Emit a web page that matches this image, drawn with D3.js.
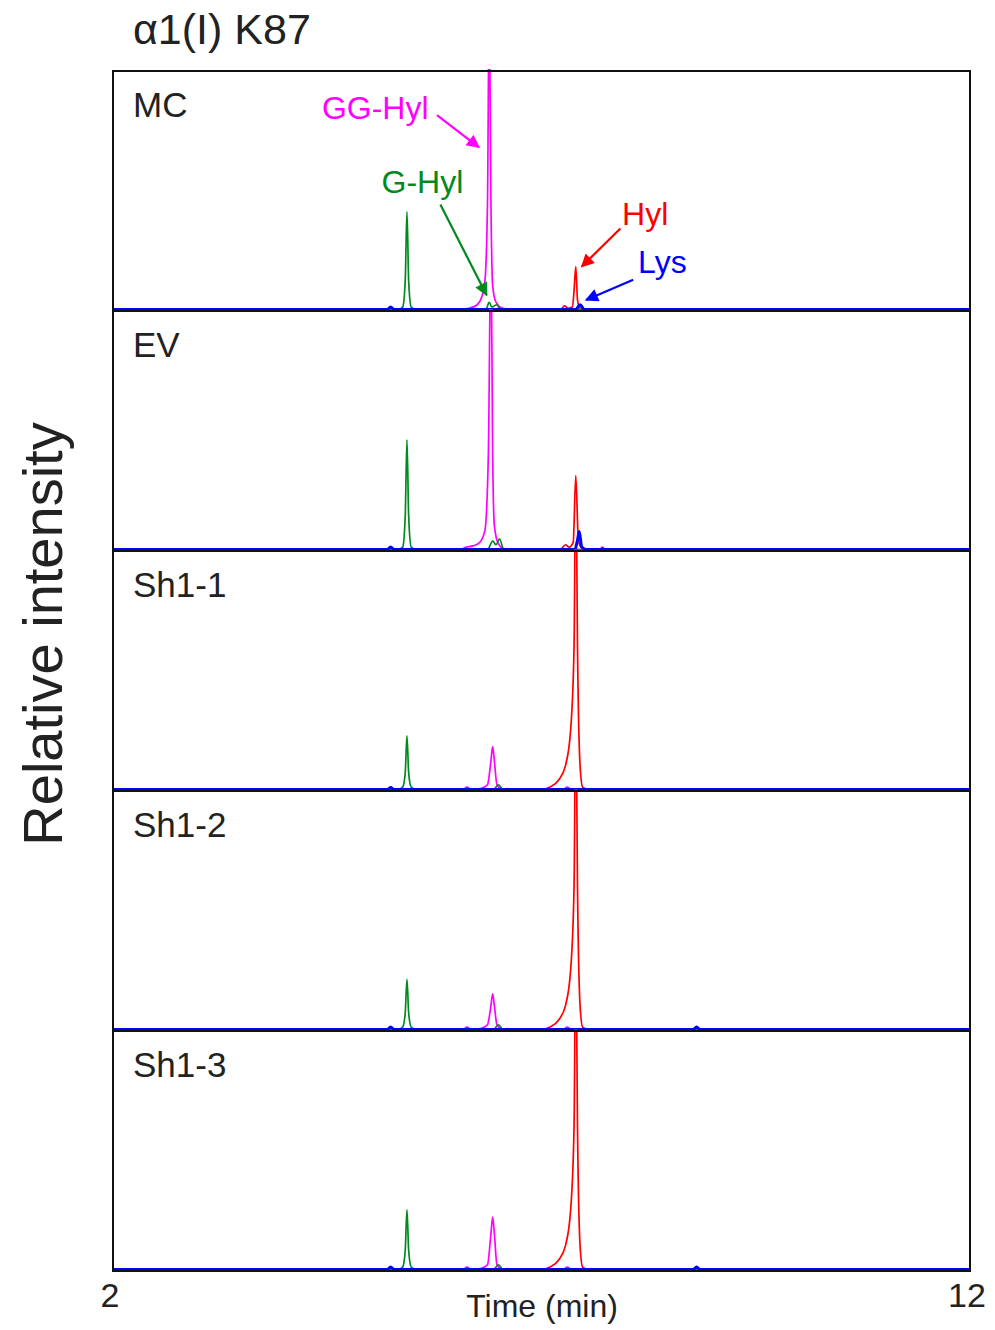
<!DOCTYPE html>
<html>
<head>
<meta charset="utf-8">
<script src="https://cdn.jsdelivr.net/npm/d3@7"></script>
<style>
  body { margin: 0; background: #fff; }
  text { font-family: "Liberation Sans", Arial, sans-serif; }
</style>
</head>
<body>
<div id="canvas"></div>
<script>
// samples, top to bottom
const samples = ["MC", "EV", "Sh1-1", "Sh1-2", "Sh1-3"];
const xTicks = [2, 12];

// chromatogram points [time (min), relative intensity (panel top = 100)], one list per sample
const ggHyl = [
  [[2,0],[6.05,0],[6.15,0.5],[6.25,2],[6.30,5],[6.34,12],[6.37,45],[6.39,130],[6.41,45],[6.43,10],[6.47,3],[6.55,0.5],[6.65,0],[12,0]],
  [[2,0],[6.05,0],[6.12,1],[6.2,1.5],[6.28,3],[6.34,8],[6.38,40],[6.41,130],[6.43,40],[6.45,10],[6.49,3],[6.55,0.5],[6.65,0],[12,0]],
  [[2,0],[6.08,0],[6.13,1],[6.18,0],[6.30,0.5],[6.37,2],[6.41,12],[6.43,18],[6.45,12],[6.48,2],[6.55,0],[7.25,0],[7.30,1],[7.35,0],[12,0]],
  [[2,0],[6.08,0],[6.13,1],[6.18,0],[6.30,0.5],[6.37,2],[6.41,10],[6.43,15],[6.45,10],[6.48,2],[6.55,0],[7.25,0],[7.30,1],[7.35,0],[12,0]],
  [[2,0],[6.08,0],[6.13,1],[6.18,0],[6.30,0.5],[6.37,2],[6.41,15],[6.43,22],[6.45,15],[6.48,2],[6.55,0],[7.25,0],[7.30,1],[7.35,0],[12,0]]
];
const gHyl = [
  [[2,0],[5.33,0],[5.38,1],[5.41,12],[5.43,41],[5.45,12],[5.48,1],[5.55,0],[6.35,0],[6.39,3],[6.42,1],[6.48,2],[6.52,0],[12,0]],
  [[2,0],[5.33,0],[5.38,1],[5.41,14],[5.43,46],[5.45,14],[5.48,1],[5.55,0],[6.37,0],[6.43,3.5],[6.47,2],[6.51,4.5],[6.56,0],[12,0]],
  [[2,0],[5.33,0],[5.38,1],[5.41,7],[5.43,22.5],[5.45,7],[5.48,1],[5.55,0],[6.44,0],[6.50,2],[6.55,0],[12,0]],
  [[2,0],[5.33,0],[5.38,1],[5.41,7],[5.43,21],[5.45,7],[5.48,1],[5.55,0],[6.44,0],[6.50,2],[6.55,0],[12,0]],
  [[2,0],[5.33,0],[5.38,1],[5.41,8],[5.43,25],[5.45,8],[5.48,1],[5.55,0],[6.44,0],[6.50,2],[6.55,0],[12,0]]
];
const hyl = [
  [[2,0],[7.22,0],[7.27,1.5],[7.31,0.5],[7.36,1],[7.38,8],[7.40,18],[7.42,4],[7.45,0.5],[7.52,0],[12,0]],
  [[2,0],[7.22,0],[7.28,2],[7.32,1],[7.37,3],[7.40,31],[7.43,4],[7.46,1],[7.52,0],[7.68,0],[7.71,1],[7.74,0],[12,0]],
  [[2,0],[7.0,0],[7.1,1],[7.2,4],[7.28,10],[7.34,25],[7.38,60],[7.40,140],[7.42,60],[7.45,10],[7.48,1],[7.55,0],[12,0]],
  [[2,0],[7.0,0],[7.1,1],[7.2,4],[7.28,10],[7.34,25],[7.38,60],[7.40,140],[7.42,60],[7.45,10],[7.48,1],[7.55,0],[12,0]],
  [[2,0],[7.0,0],[7.1,1],[7.2,4],[7.28,10],[7.34,25],[7.38,60],[7.40,140],[7.42,60],[7.45,10],[7.48,1],[7.55,0],[12,0]]
];
const lys = [
  [[2,0],[5.20,0],[5.24,1],[5.28,0],[7.40,0],[7.45,2],[7.50,0],[12,0]],
  [[2,0],[5.20,0],[5.24,1],[5.28,0],[7.39,0],[7.42,4],[7.44,7.5],[7.47,1],[7.52,0],[12,0]],
  [[2,0],[5.20,0],[5.24,0.8],[5.28,0],[12,0]],
  [[2,0],[5.20,0],[5.24,1],[5.28,0],[8.77,0],[8.81,1],[8.85,0],[12,0]],
  [[2,0],[5.20,0],[5.24,1],[5.28,0],[8.77,0],[8.81,1],[8.85,0],[12,0]]
];

// annotations in the MC panel: label, label position, arrow start, arrow end (time, intensity)
const annoLabels = ["GG-Hyl", "G-Hyl", "Hyl", "Lys"];
const annoText = [[5.06, 80], [5.61, 49], [8.21, 35.5], [8.41, 15.5]];
const annoFrom = [[5.78, 81.5], [5.82, 44], [7.92, 34], [8.07, 12.5]];
const annoTo = [[6.27, 68], [6.36, 6], [7.47, 18], [7.52, 4]];

const traces = [
  { data: ggHyl, color: "#ff00ff" },
  { data: hyl, color: "#ff0000" },
  { data: gHyl, color: "#008a1e" },
  { data: lys, color: "#0000ff" }
];
const annoColors = ["#ff00ff", "#008a1e", "#ff0000", "#0000ff"];

let width = 995, height = 1330;
let margin = { left: 113, right: 970, top: 71, bottom: 1271 };

let svg = d3.select("#canvas").append("svg")
  .attr("width", width)
  .attr("height", height);

let x = d3.scaleLinear().domain([2, 12]).range([margin.left, margin.right]);
let band = d3.scaleBand().domain(samples).range([margin.top, margin.bottom]);
let ph = band.bandwidth();
let y = d3.scaleLinear().domain([0, 100]).range([ph - 1.5, 0]);

let defs = svg.append("defs");
annoColors.forEach((c, i) => {
  defs.append("marker")
    .attr("id", "arrow" + i)
    .attr("viewBox", "0 0 10 10")
    .attr("refX", 9).attr("refY", 5)
    .attr("markerWidth", 6.5).attr("markerHeight", 6)
    .attr("markerUnits", "strokeWidth")
    .attr("orient", "auto")
    .append("path")
    .attr("d", "M0,0 L10,5 L0,10 z")
    .attr("fill", c);
});

let line = d3.line()
  .x(d => x(d[0]))
  .y(d => y(d[1]))
  .curve(d3.curveMonotoneX);

samples.forEach((s, i) => {
  let g = svg.append("g").attr("transform", "translate(0," + band(s) + ")");

  defs.append("clipPath").attr("id", "clip" + i)
    .append("rect")
    .attr("x", margin.left).attr("y", -2)
    .attr("width", margin.right - margin.left).attr("height", ph + 2);

  let plot = g.append("g").attr("clip-path", "url(#clip" + i + ")");
  traces.forEach(t => {
    plot.append("path")
      .attr("d", line(t.data[i]))
      .attr("fill", "none")
      .attr("stroke", t.color)
      .attr("stroke-width", t.color === "#0000ff" ? 3 : 1.7);
  });

  g.append("rect")
    .attr("x", margin.left).attr("y", 0)
    .attr("width", margin.right - margin.left).attr("height", ph)
    .attr("fill", "none")
    .attr("stroke", "#111")
    .attr("stroke-width", 2);

  g.append("text")
    .attr("x", margin.left + 20).attr("y", 46)
    .attr("font-size", 35)
    .attr("fill", "#222")
    .text(s);

  if (i === 0) {
    annoLabels.forEach((lab, k) => {
      g.append("line")
        .attr("x1", x(annoFrom[k][0])).attr("y1", y(annoFrom[k][1]))
        .attr("x2", x(annoTo[k][0])).attr("y2", y(annoTo[k][1]))
        .attr("stroke", annoColors[k])
        .attr("stroke-width", 2.2)
        .attr("marker-end", "url(#arrow" + k + ")");
      g.append("text")
        .attr("x", x(annoText[k][0])).attr("y", y(annoText[k][1]))
        .attr("text-anchor", "middle")
        .attr("font-size", 32)
        .attr("fill", annoColors[k])
        .text(lab);
    });
  }
});

// x tick labels and axis title
svg.selectAll(".xtick").data(xTicks).enter().append("text")
  .attr("class", "xtick")
  .attr("x", d => x(d) - 3)
  .attr("y", margin.bottom + 36)
  .attr("text-anchor", "middle")
  .attr("font-size", 34)
  .attr("fill", "#222")
  .text(d => d);

svg.append("text")
  .attr("x", 542)
  .attr("y", margin.bottom + 46)
  .attr("text-anchor", "middle")
  .attr("font-size", 32)
  .attr("fill", "#222")
  .text("Time (min)");

svg.append("text")
  .attr("transform", "translate(62,634) rotate(-90)")
  .attr("text-anchor", "middle")
  .attr("font-size", 56)
  .attr("fill", "#222")
  .text("Relative intensity");

svg.append("text")
  .attr("x", 133).attr("y", 44)
  .attr("font-size", 43)
  .attr("fill", "#222")
  .text("α1(I) K87");
</script>
</body>
</html>
